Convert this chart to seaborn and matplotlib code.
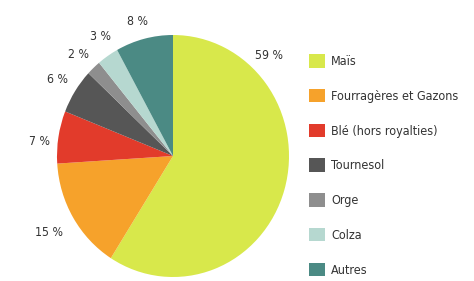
import numpy as np
import seaborn as sns
import matplotlib
matplotlib.use("Agg")
import matplotlib.pyplot as plt

# Data
categories = ['Maïs', 'Fourragères et Gazons', 'Blé (hors royalties)', 'Tournesol', 'Orge', 'Colza', 'Autres']
shares = [59, 15, 7, 6, 2, 3, 8]
colors = ['#d8e84b', '#f6a22b', '#e23b2b', '#565656', '#8e8e8e', '#b6d8d0', '#4b8a84']

sns.set_theme(style="white")
plt.rcParams['font.family'] = ['DejaVu Sans']
plt.rcParams['font.stretch'] = 'condensed'
palette = sns.color_palette(colors)

fig = plt.figure(figsize=(4.74, 2.81), dpi=100)
ax = fig.add_axes([54 / 474, 5 / 281, 238 / 474, 240 / 281])

wedges, texts = ax.pie(shares, colors=palette, startangle=90, counterclock=False,
                       labels=[f"{v} %" for v in shares], labeldistance=1.17,
                       wedgeprops=dict(linewidth=0),
                       textprops=dict(fontsize=8.8, color='#333333'))
# label placement tweaks (angle offset in deg, distance in radii)
tweaks = [(0, 1.17), (0, 1.24), (3, 1.16), (0, 1.18), (1, 1.17), (-2, 1.17), (1, 1.15)]
for w, t, (da, dist) in zip(wedges, texts, tweaks):
    mid = np.deg2rad((w.theta1 + w.theta2) / 2 + da)
    t.set_position((dist * np.cos(mid), dist * np.sin(mid)))
    t.set_ha('center')
    t.set_va('center')
    t.set_clip_on(False)
# the big slice label sits up near the top right
ang = np.deg2rad(45)
texts[0].set_position((1.17 * np.cos(ang), 1.17 * np.sin(ang)))
ax.set_aspect('auto')
ax.set_xlim(-238 / 232, 238 / 232)
ax.set_ylim(-240 / 242, 240 / 242)
ax.axis('off')

leg = fig.legend(wedges, categories, loc='upper left', bbox_to_anchor=(309 / 474, 1 - 54 / 281),
                 frameon=False, fontsize=9, handlelength=1.25, handleheight=1.3,
                 labelspacing=1.66, handletextpad=0.5, borderaxespad=0, borderpad=0)
for txt in leg.get_texts():
    txt.set_color('#333333')

fig.savefig('out.png', dpi=100)
